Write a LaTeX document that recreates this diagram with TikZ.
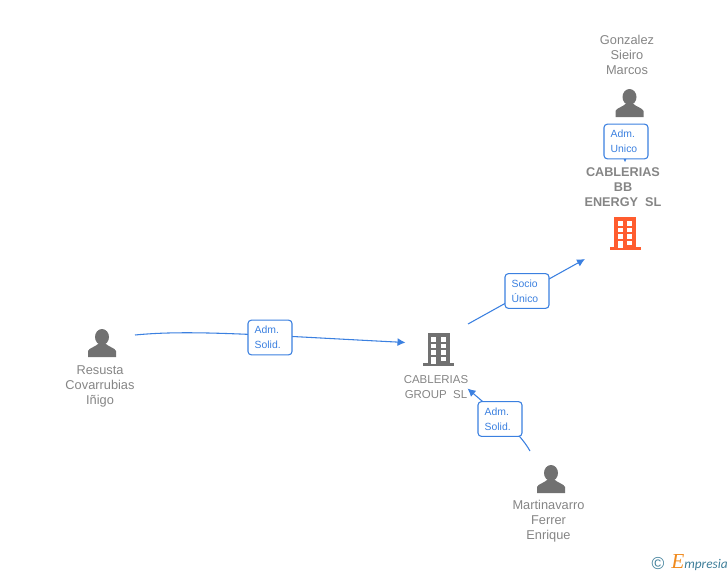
\documentclass[tikz,border=0pt]{standalone}
\usepackage{fontspec}
\setmainfont{Liberation Sans}
\newfontfamily\logofont{Liberation Serif}
\newfontfamily\logotail{Carlito}
\usetikzlibrary{arrows.meta,positioning}
\definecolor{linkblue}{HTML}{3B80E0}
\definecolor{textgray}{HTML}{858585}
\definecolor{icongray}{HTML}{717171}
\definecolor{iconorange}{HTML}{FF5C2E}
\definecolor{logoteal}{HTML}{3F7F9A}
\definecolor{logoorange}{HTML}{F08A1D}
\tikzset{
  person/.pic={
    \fill[icongray] (0,-6) ellipse [x radius=7, y radius=8];
    \fill[icongray] (-14,14) -- (-14,8) .. controls (-13,5) and (-7,4) .. (-4,1) -- (4,1) .. controls (7,4) and (13,5) .. (14,8) -- (14,14) -- cycle;
  },
  building/.pic={
    \fill[pic actions] (-11,-16.5) rectangle (11,14);
    \fill[pic actions] (-15.5,13.5) rectangle (15.5,16.5);
    \foreach \wy in {-12.5,-6,0.5} {
      \fill[white] (-7.5,\wy) rectangle (-2.5,\wy+4.5);
      \fill[white] (2,\wy) rectangle (7,\wy+4.5);
    }
    \fill[white] (-7.5,7) rectangle (-2.5,14);
    \fill[white] (2,7) rectangle (7,11.5);
  }
}
\begin{document}
\begin{tikzpicture}[x=0.75pt,y=-0.75pt]
        \tikzstyle{main}=[inner sep=0pt, minimum size=0pt]
        \tikzstyle{nametext}=[text=textgray, font=\fontsize{9.6}{11.25}\selectfont, align=center, inner sep=0pt]
        \tikzstyle{grouptext}=[nametext, font=\fontsize{8.6}{11.25}\selectfont]
        \tikzstyle{company}=[nametext, font=\fontsize{9.5}{11.25}\selectfont\bfseries]
        \tikzstyle{role}=[draw=linkblue, fill=white, line width=0.8pt, rounded corners=2.5pt, minimum width=33pt, minimum height=26pt, text width=23pt, inner xsep=5pt, inner ysep=0pt, align=left, text=linkblue, font=\fontsize{7.8}{11.25}\selectfont]
        \tikzstyle{connect}=[-{Latex[length=6pt,width=6pt]}, linkblue, line width=0.8pt]
        \useasboundingbox (0,0) rectangle (728,575);
        \node[main] (gonzalez) at (629.5,103) {};
        \node[main] (cablbb) at (625,233.5) {};
        \node[main] (group) at (438.5,349.5) {};
        \node[main] (resusta) at (102,343) {};
        \node[main] (martina) at (551,479) {};
        \pic at (gonzalez) {person};
        \pic at (resusta) {person};
        \pic at (martina) {person};
        \pic[fill=iconorange] at (cablbb) {building};
        \pic[fill=icongray] at (group) {building};
        \node[nametext] (gonzalezname) at (627,55) {Gonzalez\\Sieiro\\Marcos};
        \node[company] (cablbbname) at (623,187) {CABLERIAS\\BB\\ENERGY\ \ SL};
        \node[grouptext] (groupname) at (436,387.5) {CABLERIAS\\GROUP\ \ SL};
        \node[nametext] (resustaname) at (100,386.5) {Resusta\\Covarrubias\\Iñigo};
        \node[nametext] (martinaname) at (548.5,521.5) {Martinavarro\\Ferrer\\Enrique};
        \coordinate (unicofrom) at (625,150);
        \coordinate (unicoto) at (625,162.5);
        \coordinate (resustaout) at (135,335);
        \coordinate (groupin) at (405.5,342.5);
        \coordinate (groupout) at (468,324);
        \coordinate (cablbbin) at (585,259);
        \coordinate (martinaout) at (530,451);
        \coordinate (groupin2) at (467.5,388.5);
        \path (unicofrom) edge [connect] (unicoto);
        \draw[connect] (resustaout) .. controls (190,329.5) and (260,335) .. (groupin);
        \path (groupout) edge [connect] (cablbbin);
        \draw[connect] (martinaout) .. controls (519,431) and (490,408) .. (groupin2);
        \node[role] (adm1) at (626,141.5) {Adm.\\Unico};
        \node[role] (adm2) at (270,337.5) {Adm.\\Solid.};
        \node[role] (socio) at (527,291) {Socio\\Único};
        \node[role] (adm3) at (500,419) {Adm.\\Solid.};
        \node[main, text=logoteal, font=\fontsize{13}{13}\selectfont] (copyright) at (658,563.5) {©};
        \node[main, anchor=base west, font=\logotail\fontsize{10}{11}\selectfont\itshape, text=logoteal] (logo) at (671,568) {{\color{logoorange}\logofont\fontsize{16}{16}\selectfont E}mpresia};
      \end{tikzpicture}
\end{document}
